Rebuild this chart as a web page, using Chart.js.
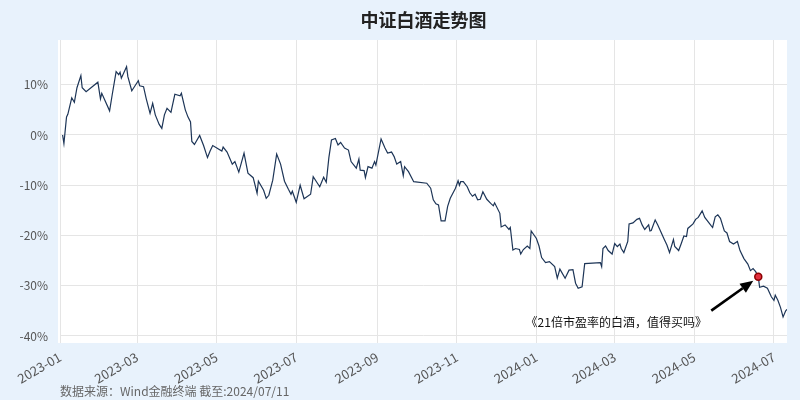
<!DOCTYPE html>
<html>
<head>
<meta charset="utf-8">
<script src="https://cdn.jsdelivr.net/npm/chart.js@4.4.0/dist/chart.umd.min.js"></script>
<style>
  html, body { margin: 0; padding: 0; background: #e8f2fc; }
  #wrap { width: 800px; height: 400px; }
</style>
</head>
<body>
<div id="wrap"><canvas id="chart" width="800" height="400"></canvas></div>
<script>
// ── Data ───────────────────────────────────────────────────────
const titleText = '中证白酒走势图';
const sourceText = '数据来源：Wind金融终端 截至:2024/07/11';
const noteText = '《21倍市盈率的白酒，值得买吗》';

const dates = [
  '2023-01-03','2023-01-04','2023-01-06','2023-01-07','2023-01-10','2023-01-12','2023-01-14','2023-01-17','2023-01-18','2023-01-21',
  '2023-01-30','2023-02-01','2023-02-02','2023-02-08','2023-02-10','2023-02-13','2023-02-15','2023-02-16','2023-02-17','2023-02-21',
  '2023-02-22','2023-02-25','2023-02-27','2023-03-02','2023-03-03','2023-03-06','2023-03-08','2023-03-11','2023-03-13','2023-03-15',
  '2023-03-18','2023-03-20','2023-03-22','2023-03-24','2023-03-27','2023-03-30','2023-04-03','2023-04-04','2023-04-07','2023-04-09',
  '2023-04-11','2023-04-12','2023-04-14','2023-04-18','2023-04-21','2023-04-24','2023-04-26','2023-04-28','2023-05-05','2023-05-06',
  '2023-05-09','2023-05-13','2023-05-15','2023-05-18','2023-05-22','2023-05-25','2023-05-29','2023-06-01','2023-06-02','2023-06-06',
  '2023-06-08','2023-06-10','2023-06-13','2023-06-16','2023-06-19','2023-06-22','2023-06-25','2023-06-27','2023-06-28','2023-07-01',
  '2023-07-04','2023-07-07','2023-07-12','2023-07-14','2023-07-17','2023-07-19','2023-07-22','2023-07-24','2023-07-26','2023-07-28',
  '2023-07-31','2023-08-02','2023-08-04','2023-08-07','2023-08-10','2023-08-12','2023-08-16','2023-08-18','2023-08-19','2023-08-22',
  '2023-08-23','2023-08-25','2023-08-28','2023-08-30','2023-08-31','2023-09-04','2023-09-07','2023-09-09','2023-09-12','2023-09-14',
  '2023-09-16','2023-09-19','2023-09-21','2023-09-22','2023-09-25','2023-09-29','2023-10-09','2023-10-12','2023-10-14','2023-10-16',
  '2023-10-18','2023-10-20','2023-10-23','2023-10-25','2023-10-27','2023-10-30','2023-10-31','2023-11-02','2023-11-03','2023-11-04',
  '2023-11-06','2023-11-09','2023-11-11','2023-11-13','2023-11-15','2023-11-17','2023-11-19','2023-11-21','2023-11-24','2023-11-27',
  '2023-11-29','2023-11-30','2023-12-04','2023-12-05','2023-12-08','2023-12-11','2023-12-12','2023-12-14','2023-12-16','2023-12-19',
  '2023-12-20','2023-12-22','2023-12-25','2023-12-27','2023-12-28','2024-01-01','2024-01-03','2024-01-05','2024-01-08','2024-01-11',
  '2024-01-15','2024-01-17','2024-01-19','2024-01-23','2024-01-26','2024-01-29','2024-01-31','2024-02-02','2024-02-05','2024-02-07',
  '2024-02-19','2024-02-20','2024-02-21','2024-02-23','2024-02-25','2024-02-28','2024-03-01','2024-03-03','2024-03-05','2024-03-06',
  '2024-03-08','2024-03-11','2024-03-12','2024-03-15','2024-03-18','2024-03-20','2024-03-22','2024-03-24','2024-03-27','2024-03-28',
  '2024-03-29','2024-04-01','2024-04-03','2024-04-08','2024-04-10','2024-04-12','2024-04-15','2024-04-16','2024-04-19','2024-04-21',
  '2024-04-23','2024-04-25','2024-04-26','2024-04-30','2024-05-02','2024-05-04','2024-05-07','2024-05-09','2024-05-14','2024-05-15',
  '2024-05-17','2024-05-19','2024-05-21','2024-05-24','2024-05-26','2024-05-28','2024-05-31','2024-06-03','2024-06-05','2024-06-08',
  '2024-06-11','2024-06-13','2024-06-15','2024-06-17','2024-06-19','2024-06-20','2024-06-23','2024-06-26','2024-06-29','2024-07-01',
  '2024-07-02','2024-07-04','2024-07-06','2024-07-08','2024-07-10','2024-07-11'
];

// cumulative change, %
const values = [
  0.0,-1.7,3.6,4.1,7.4,6.5,9.4,11.8,9.4,8.6,
  10.5,7.2,8.3,4.8,8.0,12.6,12.0,12.5,11.3,13.6,
  11.6,8.8,9.6,10.8,9.8,9.6,7.3,4.3,6.3,4.0,
  2.1,1.3,4.0,5.3,4.5,8.1,7.8,8.3,5.0,3.6,
  2.6,-1.3,-1.9,-0.1,-2.1,-4.5,-3.2,-2.1,-3.2,-2.4,
  -3.4,-5.8,-5.3,-7.4,-3.6,-7.6,-8.5,-11.6,-9.2,-11.0,
  -12.6,-12.0,-9.0,-3.8,-5.8,-9.2,-10.8,-11.8,-11.2,-13.4,
  -10.0,-12.7,-11.8,-8.3,-9.5,-10.3,-8.4,-9.4,-4.5,-1.0,
  -0.7,-2.0,-1.5,-2.6,-3.0,-5.3,-6.6,-4.8,-7.0,-7.1,
  -8.5,-6.3,-6.6,-5.3,-6.0,-0.8,-2.6,-3.6,-3.4,-4.3,
  -5.8,-5.3,-8.1,-6.3,-7.3,-9.3,-9.6,-10.6,-12.9,-13.7,
  -13.9,-17.1,-17.1,-14.2,-12.6,-11.1,-10.6,-9.1,-10.0,-9.3,
  -9.3,-10.3,-11.5,-12.2,-11.8,-12.9,-12.8,-11.3,-12.8,-13.6,
  -14.1,-13.5,-15.6,-18.3,-17.9,-18.8,-18.4,-22.9,-22.6,-22.8,
  -23.7,-22.8,-22.1,-22.6,-19.1,-20.6,-22.1,-24.4,-25.4,-25.2,
  -26.2,-28.5,-26.7,-28.5,-26.9,-26.8,-29.5,-30.5,-30.2,-25.6,
  -25.4,-26.2,-22.6,-22.1,-23.0,-23.7,-21.6,-22.2,-21.7,-22.6,
  -23.4,-21.2,-17.7,-17.5,-16.8,-16.6,-17.9,-18.8,-17.9,-19.1,
  -19.0,-16.9,-17.9,-20.8,-21.9,-23.4,-20.8,-22.2,-23.0,-21.6,
  -20.1,-20.2,-18.6,-17.7,-16.8,-16.4,-15.1,-16.4,-18.1,-18.4,
  -16.3,-15.9,-16.6,-19.1,-19.5,-21.2,-21.7,-21.2,-23.0,-24.6,
  -25.7,-27.0,-26.6,-27.2,-28.2,-30.3,-30.1,-30.5,-32.2,-32.9,
  -31.9,-32.9,-34.3,-36.2,-35.0,-34.7
];

const markerDate = '2024-06-19';
const markerValue = -28.2;

const xTickLabels = ['2023-01','2023-03','2023-05','2023-07','2023-09','2023-11','2024-01','2024-03','2024-05','2024-07'];
const yTickValues = [-40, -30, -20, -10, 0, 10];

// ── Helpers ────────────────────────────────────────────────────
const FONT = '"Noto Sans CJK SC", "Noto Sans", sans-serif';
const DAY0 = Date.UTC(2023, 0, 1);
function toDay(s) {
  const [y, m, d] = s.split('-').map(Number);
  return (Date.UTC(y, m - 1, d || 1) - DAY0) / 864e5;
}

const linePoints = dates.map((d, i) => ({ x: toDay(d), y: values[i] }));

// ── Plugins: background, title, footer, annotation ─────────────
const decor = {
  id: 'decor',
  beforeDraw(chart) {
    const { ctx, chartArea: a } = chart;
    ctx.save();
    ctx.fillStyle = '#e8f2fc';
    ctx.fillRect(0, 0, chart.width, chart.height);
    ctx.fillStyle = '#ffffff';
    ctx.fillRect(a.left - 2, a.top, a.right - a.left + 2, a.bottom - a.top);
    ctx.restore();
  },
  afterDraw(chart) {
    const { ctx, chartArea: a, scales } = chart;
    ctx.save();
    // title
    ctx.fillStyle = '#222';
    ctx.font = `bold 18px ${FONT}`;
    ctx.textAlign = 'center';
    ctx.textBaseline = 'middle';
    ctx.fillText(titleText, (a.left + a.right) / 2, 20);
    // source
    ctx.fillStyle = '#666';
    ctx.font = `12px ${FONT}`;
    ctx.textAlign = 'left';
    ctx.fillText(sourceText, a.left, 391);

    // arrow + note pointing at the marker
    const px = scales.x.getPixelForValue(toDay(markerDate));
    const py = scales.y.getPixelForValue(markerValue);
    const tx = px - 47, ty = py + 34;
    const hx = px - 5, hy = py + 4;
    const ang = Math.atan2(hy - ty, hx - tx);
    const hl = 13, hw = 5.5;
    const bx = hx - hl * Math.cos(ang), by = hy - hl * Math.sin(ang);
    ctx.strokeStyle = '#000';
    ctx.lineWidth = 2.6;
    ctx.beginPath();
    ctx.moveTo(tx, ty);
    ctx.lineTo(bx, by);
    ctx.stroke();
    ctx.fillStyle = '#000';
    ctx.beginPath();
    ctx.moveTo(hx, hy);
    ctx.lineTo(bx + hw * Math.sin(ang), by - hw * Math.cos(ang));
    ctx.lineTo(bx - hw * Math.sin(ang), by + hw * Math.cos(ang));
    ctx.closePath();
    ctx.fill();

    ctx.font = `12px ${FONT}`;
    ctx.textAlign = 'center';
    ctx.fillStyle = '#111';
    ctx.fillText(noteText, px - 142, py + 46);
    ctx.restore();
  }
};

// ── Chart ──────────────────────────────────────────────────────
new Chart(document.getElementById('chart'), {
  type: 'line',
  data: {
    datasets: [
      {
        data: linePoints,
        borderColor: '#1d3557',
        borderWidth: 1.2,
        pointRadius: 0,
        tension: 0,
        order: 2,
      },
      {
        data: [{ x: toDay(markerDate), y: markerValue }],
        showLine: false,
        pointRadius: 3.5,
        pointBackgroundColor: '#e03040',
        pointBorderColor: '#8b0000',
        pointBorderWidth: 1.5,
        order: 1,
      }
    ]
  },
  options: {
    responsive: false,
    animation: false,
    layout: { padding: { top: 40, right: 13, left: 0, bottom: 0 } },
    plugins: { legend: { display: false }, tooltip: { enabled: false } },
    scales: {
      x: {
        type: 'linear',
        min: 0,
        max: toDay('2024-07-11'),
        afterBuildTicks: s => { s.ticks = xTickLabels.map(t => ({ value: toDay(t) })); },
        afterFit: s => { s.height = 57; },
        ticks: {
          autoSkip: false,
          minRotation: 30,
          maxRotation: 30,
          padding: 6,
          color: '#555',
          font: { family: FONT, size: 13 },
          callback: (v, i) => xTickLabels[i],
        },
        grid: { color: '#e5e5e5', lineWidth: 1, drawTicks: false },
        border: { display: false },
      },
      y: {
        min: -41.4,
        max: 18.9,
        afterBuildTicks: s => { s.ticks = yTickValues.map(v => ({ value: v })); },
        afterFit: s => { s.width = 60; },
        ticks: {
          padding: 12,
          color: '#555',
          font: { family: FONT, size: 12 },
          callback: v => v + '%',
        },
        grid: { color: '#e5e5e5', lineWidth: 1, drawTicks: false },
        border: { display: false },
      }
    }
  },
  plugins: [decor]
});
</script>
</body>
</html>
